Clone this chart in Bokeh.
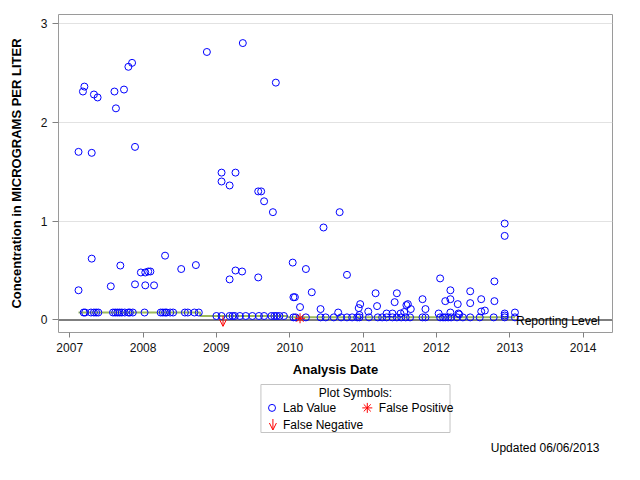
from bokeh.plotting import figure
from bokeh.layouts import column
from bokeh.models import Range1d, FixedTicker, Span, Label, Arrow, OpenHead, ColumnDataSource
from bokeh.core.properties import value
from bokeh.embed import file_html
from bokeh.resources import INLINE

# ---------------- data (decimal year, micrograms per liter) ----------------
det_date = [2007.12, 2007.30, 2007.89, 2007.18, 2007.20, 2007.33, 2007.38, 2007.61, 2007.63, 2007.74,
            2007.80, 2007.85, 2008.87, 2009.36, 2009.81,
            2007.12, 2007.30, 2007.56, 2007.69, 2007.89, 2007.97, 2008.03, 2008.07, 2008.10, 2008.03,
            2008.15, 2008.30, 2008.52, 2008.72,
            2009.07, 2009.07, 2009.18, 2009.26, 2009.18, 2009.26, 2009.35, 2009.57, 2009.61, 2009.65,
            2009.77, 2010.68, 2010.46, 2009.57,
            2010.04, 2010.22, 2010.05, 2010.07, 2010.30, 2010.14, 2010.42, 2010.66, 2010.78, 2010.96,
            2010.94, 2010.95, 2011.07, 2011.17, 2011.19, 2011.32, 2011.40, 2011.43, 2011.46, 2011.51,
            2011.56, 2011.59, 2011.61, 2011.65, 2011.81, 2011.85,
            2012.03, 2012.05, 2012.12, 2012.19, 2012.19, 2012.19, 2012.29, 2012.30, 2012.31, 2012.46,
            2012.46, 2012.61, 2012.61, 2012.66, 2012.79, 2012.79, 2012.93, 2012.93, 2012.93, 2012.93,
            2013.07]
det_value = [1.70, 1.69, 1.75, 2.31, 2.36, 2.28, 2.25, 2.31, 2.14, 2.33,
             2.56, 2.60, 2.71, 2.80, 2.40,
             0.30, 0.62, 0.34, 0.55, 0.36, 0.48, 0.48, 0.49, 0.49, 0.35,
             0.35, 0.65, 0.515, 0.555,
             1.49, 1.40, 1.36, 1.49, 0.41, 0.50, 0.49, 1.30, 1.30, 1.20,
             1.09, 1.09, 0.935, 0.43,
             0.58, 0.515, 0.23, 0.23, 0.28, 0.13, 0.11, 0.075, 0.456, 0.16,
             0.12, 0.05, 0.085, 0.27, 0.14, 0.065, 0.065, 0.18, 0.27, 0.065,
             0.08, 0.15, 0.16, 0.11, 0.21, 0.11,
             0.065, 0.42, 0.19, 0.30, 0.21, 0.075, 0.16, 0.065, 0.056, 0.29,
             0.17, 0.21, 0.085, 0.095, 0.39, 0.19, 0.975, 0.85, 0.065, 0.045,
             0.075]

# results reported at the laboratory reporting limit, by period
rl_levels = [0.075, 0.04, 0.026]
nd_a_date = [2007.19, 2007.21, 2007.29, 2007.33, 2007.36, 2007.39, 2007.59, 2007.62, 2007.65, 2007.68,
             2007.71, 2007.75, 2007.80, 2007.82, 2007.86, 2008.02, 2008.24, 2008.27, 2008.30, 2008.32,
             2008.37, 2008.41, 2008.57, 2008.61, 2008.70, 2008.76]
nd_b_date = [2009.00, 2009.07, 2009.18, 2009.22, 2009.25, 2009.32, 2009.40, 2009.49, 2009.58, 2009.65,
             2009.75, 2009.79, 2009.82, 2009.86, 2009.92]
nd_c_date = [2010.05, 2010.08, 2010.22, 2010.42, 2010.49, 2010.60, 2010.70, 2010.78, 2010.85, 2010.92,
             2010.95, 2011.08, 2011.20, 2011.26, 2011.32, 2011.40, 2011.46, 2011.52, 2011.58, 2011.64,
             2011.81, 2011.85, 2012.05, 2012.09, 2012.12, 2012.16, 2012.20, 2012.28, 2012.36, 2012.46,
             2012.59, 2012.78, 2012.93, 2013.07]

# reporting-limit step line
rl_step_date = [2007.12, 2008.78, 2009.97, 2013.07]
rl_step_value = [0.075, 0.04, 0.026, 0.026]

fp_date = [2010.14]
fp_value = [0.017]
fn_date = [2009.09]
fn_value = [0.04]

reporting_level = 0.0
year_ticks = [2007, 2008, 2009, 2010, 2011, 2012, 2013, 2014]
conc_ticks = [0, 1, 2, 3]

lab_x = det_date + nd_a_date + nd_b_date + nd_c_date
lab_y = (det_value + [rl_levels[0]] * len(nd_a_date) + [rl_levels[1]] * len(nd_b_date)
         + [rl_levels[2]] * len(nd_c_date))

# ---------------- styling ----------------
FONT = "Liberation Sans"
BLUE = "#0000FF"
RED = "#FF0000"
ARROW_LEN = 0.105  # visual length of the false-negative arrow, in axis units

p = figure(width=624, height=380, output_backend="svg", toolbar_location=None,
           x_range=Range1d(2006.847, 2014.40), y_range=Range1d(-0.127, 3.089),
           min_border_left=58, min_border_right=12, min_border_top=14, min_border_bottom=48)
p.background_fill_color = "white"
p.border_fill_color = "white"
p.outline_line_color = "#9a9a9a"

p.xaxis.ticker = FixedTicker(ticks=year_ticks)
p.yaxis.ticker = FixedTicker(ticks=conc_ticks)
p.xgrid.visible = False
p.ygrid.grid_line_color = "#e2e2e2"
p.ygrid.grid_line_width = 1

for ax in (p.xaxis, p.yaxis):
    ax.axis_line_color = None
    ax.major_tick_line_color = "#808080"
    ax.minor_tick_line_color = None
    ax.major_tick_in = 0
    ax.major_label_text_font = FONT
    ax.major_label_text_font_size = "12px"
    ax.major_label_text_color = "#111111"
    ax.axis_label_text_font = FONT
    ax.axis_label_text_font_size = "13px"
    ax.axis_label_text_font_style = "bold"
    ax.axis_label_text_color = "black"

p.xaxis.major_tick_out = 5
p.xaxis.major_label_standoff = 5
p.xaxis.axis_label = "Analysis Date"
p.xaxis.axis_label_standoff = 7
p.yaxis.major_tick_out = 6
p.yaxis.major_label_standoff = 5
p.yaxis.axis_label = "Concentration in MICROGRAMS PER LITER"
p.yaxis.axis_label_standoff = 14

p.add_layout(Span(location=reporting_level, dimension="width", line_color="#7f7f7f",
                  line_width=2, level="underlay"))
p.step(rl_step_date, rl_step_value, mode="after", line_color="#9cba5a", line_width=2)
p.scatter(lab_x, lab_y, marker="circle", size=7, fill_color=None, line_color=BLUE, line_width=1)
p.scatter(fp_date, fp_value, marker="asterisk", size=10, line_color=RED, line_width=1)

fn_src = ColumnDataSource(dict(x=fn_date, y=fn_value, tip=[v - ARROW_LEN for v in fn_value]))
p.add_layout(Arrow(source=fn_src, x_start="x", y_start="y", x_end="x", y_end="tip",
                   line_color=RED, line_width=1,
                   end=OpenHead(size=7, line_color=RED, line_width=1)))
p.add_layout(Label(x=2014.23, y=reporting_level, text="Reporting Level", text_align="right",
                   text_baseline="alphabetic", y_offset=-1, text_font=FONT,
                   text_font_size="12px", text_color="black"))

# ---------------- legend / footnote strip ----------------
q = figure(width=624, height=84, output_backend="svg", toolbar_location=None,
           x_range=Range1d(0, 624), y_range=Range1d(84, 0),
           x_axis_type=None, y_axis_type=None, min_border=0)
q.outline_line_color = None
q.grid.visible = False
q.background_fill_color = "white"
q.border_fill_color = "white"

q.quad(left=[228], right=[441], top=[4], bottom=[52], fill_color=None,
       line_color="#c4c4c4", line_width=1)
q.text(x=[334.5], y=[12.5], text=["Plot Symbols:"], text_align="center", text_baseline="middle",
       text_font=value(FONT), text_font_size="12px", text_color="black")
q.scatter(x=[240.5], y=[27.4], marker="circle", size=7, fill_color=None, line_color=BLUE, line_width=1)
q.text(x=[252.9], y=[27.4], text=["Lab Value"], text_align="left", text_baseline="middle",
       text_font=value(FONT), text_font_size="12px", text_color="black")
q.scatter(x=[347.8], y=[27.4], marker="asterisk", size=10, line_color=RED, line_width=1)
q.text(x=[360.8], y=[27.4], text=["False Positive"], text_align="left", text_baseline="middle",
       text_font=value(FONT), text_font_size="12px", text_color="black")
q.add_layout(Arrow(x_start=241.5, y_start=38.5, x_end=241.5, y_end=49.5,
                   line_color=RED, line_width=1,
                   end=OpenHead(size=7, line_color=RED, line_width=1)))
q.text(x=[252.9], y=[44.2], text=["False Negative"], text_align="left", text_baseline="middle",
       text_font=value(FONT), text_font_size="12px", text_color="black")
q.text(x=[609.4], y=[67.4], text=["Updated 06/06/2013"], text_align="right", text_baseline="middle",
       text_font=value(FONT), text_font_size="12px", text_color="black")

layout = column(p, q, spacing=0)
open("out.html", "w").write(file_html(layout, INLINE))
